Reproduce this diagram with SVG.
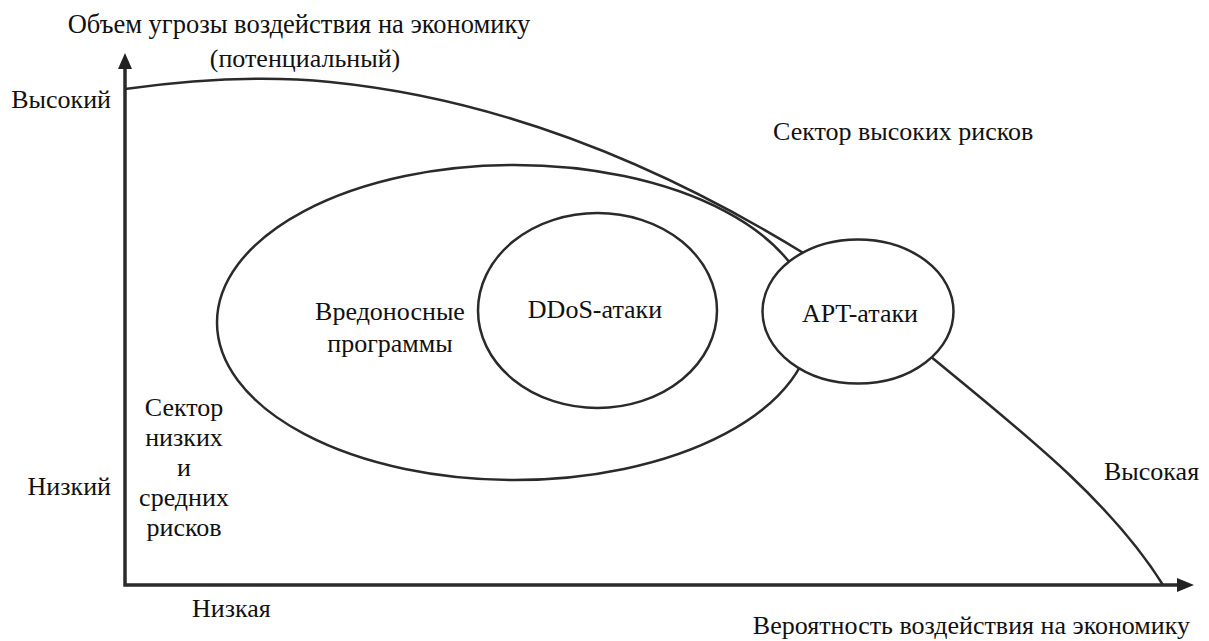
<svg xmlns="http://www.w3.org/2000/svg" width="1209" height="641" viewBox="0 0 1209 641">
<style>
text{font-family:"Liberation Serif","DejaVu Serif","Noto Serif",serif;font-size:26px;fill:#111}
.t{font-size:26.5px}
.ln{fill:none;stroke:#2a2a2a;stroke-width:2.5}
.ax{fill:none;stroke:#2a2a2a;stroke-width:3.5}
.nd{fill:#fff;stroke:#2a2a2a;stroke-width:2.5}
.c{text-anchor:middle}
.e{text-anchor:end}
</style>
<rect width="1209" height="641" fill="#fff"/>
<g id="axes">
<path class="ax" d="M125,66 L125,585 L1180,585"/>
<polygon points="125,53 118,69 132,69" fill="#222"/>
<polygon points="1194,585 1177,578 1177,592" fill="#222"/>
</g>
<g id="connectors">
<path class="ln" d="M125,89 C190,80 260,75 330,82 C460,95 620,140 805,254"/>
<path class="ln" d="M930,356 C1020,430 1110,500 1163,585"/>
</g>
<g id="malware">
<ellipse class="nd" cx="514.5" cy="322.5" rx="297.5" ry="157.5"/>
<text class="c" x="390" y="320">Вредоносные</text>
<text class="c" x="390" y="352">программы</text>
</g>
<g id="ddos">
<ellipse class="nd" cx="597.5" cy="310.5" rx="119.5" ry="97.5"/>
<text class="c" x="595" y="318">DDoS-атаки</text>
</g>
<g id="apt">
<ellipse class="nd" cx="858" cy="311.5" rx="95.5" ry="72"/>
<text class="c" x="860" y="322">APT-атаки</text>
</g>
<g id="labels">
<text class="c t" x="299" y="33">Объем угрозы воздействия на экономику</text>
<text class="c" x="305" y="67">(потенциальный)</text>
<text class="e" x="111" y="108">Высокий</text>
<text class="e" x="111" y="495">Низкий</text>
<text x="773" y="140">Сектор высоких рисков</text>
<text class="c" x="184" y="416">Сектор</text>
<text class="c" x="184" y="446">низких</text>
<text class="c" x="184" y="476">и</text>
<text class="c" x="184" y="506">средних</text>
<text class="c" x="184" y="536">рисков</text>
<text x="192" y="617">Низкая</text>
<text x="1104" y="480">Высокая</text>
<text class="e" x="1190" y="634">Вероятность воздействия на экономику</text>
</g>
</svg>
